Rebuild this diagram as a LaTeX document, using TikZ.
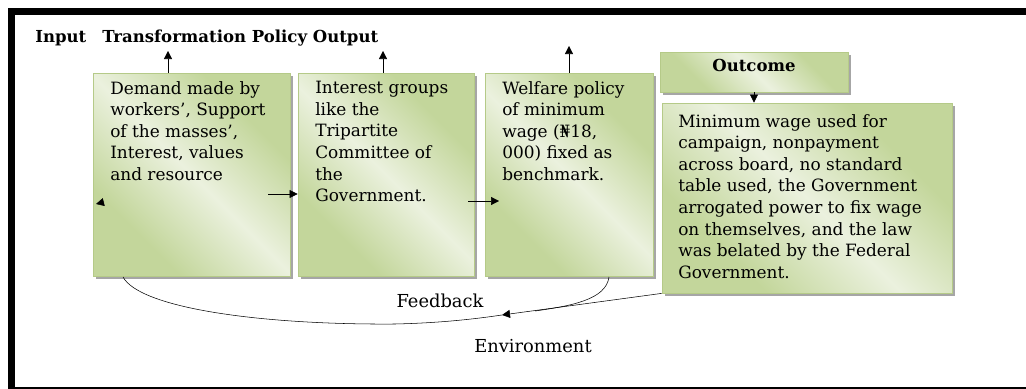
\documentclass[tikz,border=0pt]{standalone}
\usepackage{fontspec}
\setmainfont{DejaVu Serif}
\usetikzlibrary{arrows.meta,fit,shadows}

\definecolor{leafdark}{HTML}{C3D69B}
\definecolor{leaflight}{HTML}{EBF1DE}
\definecolor{leafedge}{HTML}{B5CA88}
\pgfdeclarehorizontalshading{leaf}{100bp}{color(0bp)=(leafdark); color(30bp)=(leafdark);
  color(50bp)=(leaflight); color(70bp)=(leafdark); color(100bp)=(leafdark)}

\begin{document}
\begin{tikzpicture}[x=0.75pt,y=-0.75pt,
  box/.style={draw=leafedge,line width=0.6pt,shading=leaf,shading angle=45,inner sep=0pt,
    drop shadow={shadow xshift=2pt,shadow yshift=-2pt,fill=black!35,opacity=1}},
  body/.style={font=\fontsize{12.7}{16.2}\selectfont,align=left,anchor=north west,inner sep=0pt},
  head/.style={font=\fontsize{12.4}{14}\selectfont\bfseries,inner sep=0pt},
  lbl/.style={font=\fontsize{13.4}{15}\selectfont,inner sep=0pt},
  tip/.style={-{Triangle[length=6pt,width=6pt]}}]
  \useasboundingbox (0,0) rectangle (1026,389);
  \draw[line width=5.25pt] (11,11.5) rectangle (1045,390.5);

  \node[head,anchor=west] (inp) at (35,38) {Input};
  \node[head,anchor=west] (tpo) at (102,38) {Transformation Policy Output};

  \node[box,fit={(93,73) (290,276)}] (b1) {};
  \node[box,fit={(298,73) (474,276)}] (b2) {};
  \node[box,fit={(485,73) (653,276)}] (b3) {};
  \node[box,fit={(660,52) (848,92)},head] (out) {Outcome};
  \node[box,fit={(662,103) (952,293)}] (res) {};

  \node[body] (t1) at (110,81) {Demand made by\\workers', Support\\of the masses',\\Interest, values\\and resource};
  \node[body] (t2) at (315,81) {Interest groups\\like the\\Tripartite\\Committee of\\the\\Government.};
  \node[body] (t3) at (502,81) {Welfare policy\\of minimum\\wage (₦18,\\000) fixed as\\benchmark.};
  \node[body] (t4) at (678,114) {Minimum wage used for\\campaign, nonpayment\\across board, no standard\\table used, the Government\\arrogated power to fix wage\\on themselves, and the law\\was belated by the Federal\\Government.};

  \coordinate (u1) at (168,51);
  \coordinate (u2) at (383,51);
  \coordinate (u3) at (569,46);
  \draw[tip] (b1.north -| u1) -- (u1);
  \draw[tip] (b2.north -| u2) -- (u2);
  \draw[tip] (b3.north -| u3) -- (u3);
  \draw[tip] (out.south) -- (out.south |- res.north);

  \coordinate (h1) at (268,194);
  \coordinate (h2) at (468,201);
  \draw[tip] (h1) -- (h1 -| b2.west);
  \draw[tip] (h2) -- ++(31,0);

  \coordinate (fa) at (123,277);
  \coordinate (fc) at (609,277);
  \coordinate (fm) at (502,315);
  \draw (fa) .. controls (140,308) and (260,325) .. (395,324) .. controls (440,323) and (475,319) .. (fm);
  \draw (fc) .. controls (606,300) and (570,306) .. (535,311);
  \draw[tip] (res.south west) -- (fm);
  \draw[tip] (104,202) -- (96,204);

  \node[lbl] (fb) at (440,301) {Feedback};
  \node[lbl] (env) at (533,346) {Environment};
\end{tikzpicture}
\end{document}
